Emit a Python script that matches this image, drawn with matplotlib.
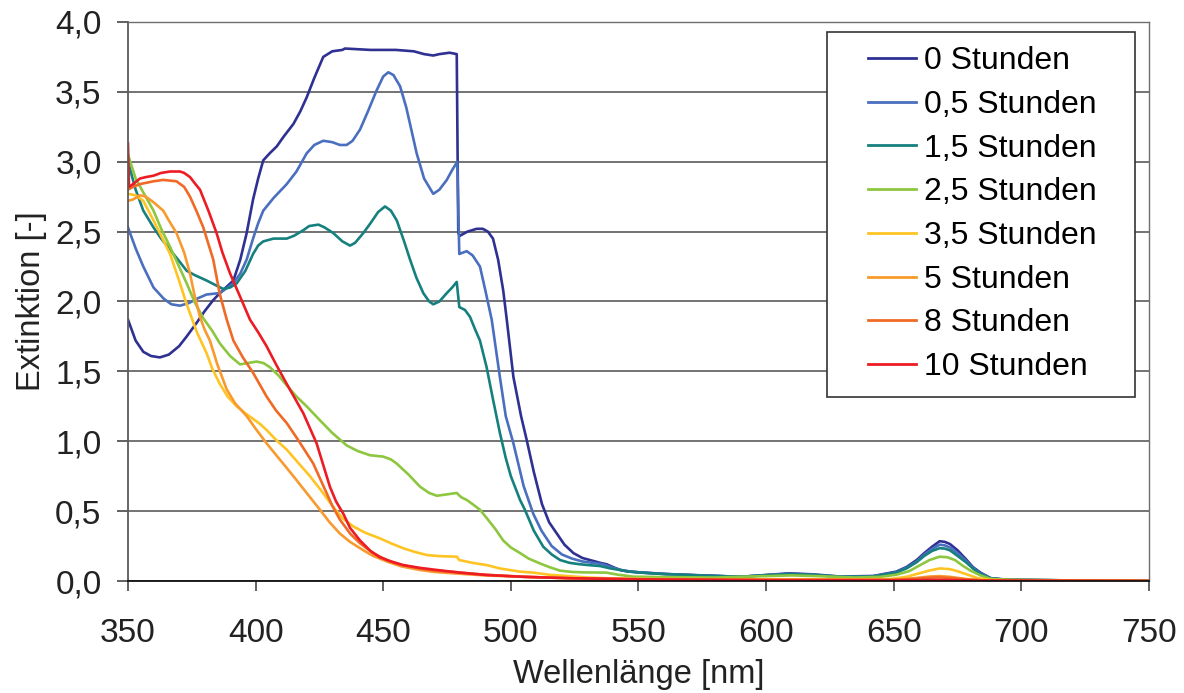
import matplotlib
matplotlib.use("Agg")
import matplotlib.pyplot as plt
from matplotlib.lines import Line2D
from matplotlib.legend_handler import HandlerLine2D

plt.rcParams["font.family"] = ["Liberation Sans", "DejaVu Sans"]

# Extinktionsspektren nach Bestrahlungsdauer
labels = ["0 Stunden", "0,5 Stunden", "1,5 Stunden", "2,5 Stunden",
          "3,5 Stunden", "5 Stunden", "8 Stunden", "10 Stunden"]
colors = ["#2e3192", "#4a6fbf", "#16807f", "#8dc63f",
          "#ffc424", "#f89a2e", "#f06a26", "#ed1c24"]

wl_0h = [350, 353, 356, 359, 362.5, 366, 370, 373, 377, 380, 383.4, 386, 391.3, 394, 396.5,
         399, 401, 403, 405.5, 408.3, 411, 414.8, 417.5, 420, 423, 426.5, 430, 434, 435, 445,
         455, 462, 466, 469.6, 472, 476, 478.8, 479.4, 480, 483, 486.6, 489, 491, 493, 495,
         497, 498.4, 501, 504, 506.2, 509, 512.2, 515, 518, 521, 524.5, 528, 531, 535, 537.5,
         540, 542.8, 546, 550.6, 561, 574, 590, 600, 609, 618, 629, 642, 651, 655, 659, 662,
         665, 668, 670, 672, 675, 678.6, 681, 684, 688, 693, 700, 720, 750]
ext_0h = [1.87, 1.72, 1.64, 1.61, 1.60, 1.62, 1.68, 1.75, 1.85, 1.93, 2.01, 2.06, 2.15, 2.30, 2.49,
          2.73, 2.88, 3.01, 3.06, 3.11, 3.18, 3.27, 3.36, 3.46, 3.60, 3.75, 3.79, 3.80, 3.81, 3.80,
          3.80, 3.79, 3.77, 3.76, 3.77, 3.78, 3.77, 2.49, 2.47, 2.50, 2.52, 2.52, 2.50, 2.45, 2.30,
          2.08, 1.87, 1.46, 1.18, 1.01, 0.78, 0.55, 0.42, 0.34, 0.26, 0.20, 0.165, 0.15, 0.13, 0.12,
          0.10, 0.079, 0.068, 0.062, 0.05, 0.041, 0.03, 0.043, 0.055, 0.048, 0.032, 0.036, 0.067,
          0.10, 0.15, 0.20, 0.245, 0.285, 0.28, 0.265, 0.22, 0.15, 0.10, 0.06, 0.02, 0.012, 0.008,
          0.004, 0.0]

wl_05h = [350, 353, 356, 360, 364, 367, 370.4, 374, 377, 380.8, 386, 391.3, 394, 396.5, 399,
          401, 403, 407, 412.2, 416, 420, 423, 426.5, 430, 433, 435.7, 438, 440.9, 444, 447.4,
          450, 452, 454, 456.6, 459, 461, 463.1, 466, 469.6, 472, 474.9, 477, 479, 479.8, 482.7,
          485, 487.9, 490, 492.5, 495.7, 498, 501, 505, 508.8, 512, 516, 520, 524, 528, 532, 536,
          540, 544, 550, 560, 574, 590, 600, 609, 618, 629, 642, 651, 655, 659, 662, 665, 668,
          670, 672, 675, 678.6, 681, 684, 688, 693, 700, 720, 750]
ext_05h = [2.53, 2.38, 2.25, 2.10, 2.02, 1.98, 1.97, 1.99, 2.02, 2.05, 2.06, 2.13, 2.20, 2.30, 2.45,
           2.56, 2.65, 2.74, 2.84, 2.93, 3.06, 3.12, 3.15, 3.14, 3.12, 3.12, 3.15, 3.23, 3.36, 3.51,
           3.61, 3.64, 3.62, 3.54, 3.39, 3.23, 3.06, 2.88, 2.77, 2.80, 2.87, 2.94, 3.00, 2.34, 2.36,
           2.33, 2.25, 2.08, 1.87, 1.46, 1.18, 0.985, 0.68, 0.48, 0.36, 0.25, 0.19, 0.16, 0.14, 0.13,
           0.12, 0.095, 0.075, 0.062, 0.05, 0.04, 0.03, 0.042, 0.052, 0.045, 0.03, 0.034, 0.063,
           0.095, 0.14, 0.19, 0.23, 0.26, 0.255, 0.24, 0.20, 0.14, 0.095, 0.055, 0.02, 0.01, 0.008,
           0.004, 0.0]

wl_15h = [350, 353, 356, 360, 363, 366.5, 370, 373, 376, 380.8, 384, 387.3, 390, 392.6, 396, 399,
          401, 403, 407, 412.2, 415, 418.7, 421, 424.6, 427, 430.4, 434, 437, 439, 442.2, 445, 448,
          450.7, 453, 455.3, 458, 460.5, 463, 465.7, 468, 469.6, 472, 474.9, 477, 478.8, 479.8,
          482, 484, 486, 487.9, 490.5, 493, 495.7, 498, 500, 503.6, 505.5, 509, 512.7, 516, 519.3,
          523, 527, 531, 535, 539, 542.8, 546, 550.6, 560, 574, 590, 600, 609, 618, 629, 642, 651,
          655, 659, 662, 665, 668, 670, 672, 675, 678.6, 681, 684, 688, 693, 700, 720, 750]
ext_15h = [3.00, 2.80, 2.65, 2.53, 2.45, 2.37, 2.29, 2.22, 2.19, 2.15, 2.12, 2.09, 2.10, 2.13, 2.22,
           2.34, 2.40, 2.43, 2.45, 2.45, 2.47, 2.51, 2.54, 2.55, 2.53, 2.49, 2.43, 2.40, 2.42, 2.49,
           2.56, 2.64, 2.68, 2.65, 2.58, 2.44, 2.30, 2.17, 2.06, 2.00, 1.98, 2.00, 2.06, 2.10, 2.14,
           1.96, 1.94, 1.89, 1.80, 1.72, 1.53, 1.30, 1.06, 0.88, 0.75, 0.58, 0.51, 0.36, 0.245, 0.19,
           0.15, 0.13, 0.12, 0.113, 0.107, 0.09, 0.079, 0.068, 0.06, 0.05, 0.04, 0.03, 0.042, 0.05,
           0.045, 0.03, 0.033, 0.06, 0.09, 0.135, 0.18, 0.215, 0.235, 0.232, 0.22, 0.18, 0.13, 0.09,
           0.05, 0.02, 0.01, 0.008, 0.004, 0.0]

wl_25h = [350, 353, 356, 360, 363, 366.5, 370, 373, 376, 379.5, 383, 386, 390, 393.9, 397, 400.4,
          403, 405.6, 409, 412.2, 416, 420, 425.2, 430, 435.7, 440, 444.8, 450, 453, 455.3, 460,
          464.4, 468, 471, 475, 478.8, 480.5, 482.7, 485, 487.9, 491, 494, 497, 500, 503.6, 507,
          511.4, 515, 519.3, 524, 528.4, 537.5, 542, 548, 560, 580, 600, 610, 620, 635, 645, 651,
          656, 660, 664, 668, 671, 674, 677, 680, 684, 688, 693, 700, 720, 750]
ext_25h = [3.05, 2.88, 2.78, 2.65, 2.52, 2.39, 2.25, 2.13, 2.00, 1.88, 1.79, 1.70, 1.61, 1.55, 1.56,
           1.57, 1.56, 1.53, 1.47, 1.40, 1.32, 1.25, 1.15, 1.06, 0.97, 0.93, 0.90, 0.89, 0.87, 0.84,
           0.76, 0.675, 0.63, 0.61, 0.62, 0.63, 0.60, 0.58, 0.55, 0.51, 0.44, 0.37, 0.29, 0.24, 0.20,
           0.16, 0.126, 0.10, 0.074, 0.065, 0.062, 0.06, 0.045, 0.031, 0.028, 0.025, 0.035, 0.04,
           0.035, 0.025, 0.03, 0.045, 0.07, 0.11, 0.15, 0.174, 0.17, 0.15, 0.11, 0.075, 0.04, 0.015,
           0.01, 0.008, 0.004, 0.0]

wl_35h = [350, 353, 356, 360, 363, 366.5, 370, 373, 377, 380.8, 383, 386, 389, 392.6, 396, 399,
          402, 404.3, 408, 412.2, 416, 421.3, 426, 430.4, 434, 438.3, 443, 448.7, 453, 457.9, 462,
          467, 472, 478.8, 479.8, 485, 490.5, 495.7, 503.6, 508.8, 515, 521.8, 530, 540, 560, 600,
          640, 649, 655, 660, 664, 668, 672, 675, 679, 683, 688, 700, 750]
ext_35h = [2.77, 2.76, 2.72, 2.58, 2.47, 2.34, 2.15, 1.98, 1.78, 1.63, 1.52, 1.41, 1.32, 1.25, 1.20,
           1.16, 1.12, 1.08, 1.01, 0.94, 0.86, 0.75, 0.64, 0.53, 0.45, 0.39, 0.345, 0.305, 0.27,
           0.234, 0.21, 0.186, 0.178, 0.174, 0.15, 0.13, 0.114, 0.09, 0.067, 0.06, 0.045, 0.036,
           0.025, 0.018, 0.014, 0.012, 0.012, 0.015, 0.03, 0.055, 0.075, 0.09, 0.085, 0.07, 0.045,
           0.02, 0.008, 0.005, 0.0]

wl_5h = [350, 352, 354.7, 357, 360, 363.8, 366, 369, 372, 374.3, 376, 378.2, 380, 382.1, 385,
         388.7, 392, 396.5, 400, 404.3, 409, 414.8, 420, 425.2, 429, 433, 437, 442.2, 446, 451.4,
         457, 464.4, 470, 477.4, 490, 505, 523, 550, 600, 650, 658, 664, 668, 672, 678, 685, 750]
ext_5h = [2.72, 2.73, 2.76, 2.75, 2.71, 2.65, 2.58, 2.49, 2.35, 2.20, 2.05, 1.89, 1.80, 1.72, 1.55,
          1.37, 1.27, 1.18, 1.09, 0.985, 0.88, 0.75, 0.63, 0.51, 0.42, 0.34, 0.28, 0.22, 0.18, 0.14,
          0.105, 0.079, 0.065, 0.055, 0.04, 0.03, 0.02, 0.012, 0.008, 0.01, 0.02, 0.032, 0.035,
          0.03, 0.015, 0.005, 0.0]

wl_8h = [350, 352, 354.7, 360, 363.8, 369, 372, 374.3, 377, 379.5, 383.4, 386, 388.7, 391.3, 395,
         399, 404.3, 408, 412.2, 417, 422.6, 427.8, 430, 433, 437, 440.9, 446, 451.4, 457, 464.4,
         470, 477.4, 490, 505, 523, 550, 600, 650, 658, 664, 668, 672, 678, 685, 750]
ext_8h = [2.80, 2.82, 2.84, 2.86, 2.87, 2.86, 2.82, 2.75, 2.64, 2.53, 2.30, 2.05, 1.87, 1.72, 1.60,
          1.49, 1.32, 1.22, 1.13, 1.00, 0.84, 0.63, 0.54, 0.44, 0.34, 0.27, 0.20, 0.15, 0.115, 0.09,
          0.075, 0.065, 0.045, 0.03, 0.02, 0.012, 0.008, 0.008, 0.015, 0.024, 0.026, 0.022, 0.012,
          0.004, 0.0]

wl_10h = [350, 350.4, 352, 354.7, 357, 360, 363, 366.5, 370.4, 372, 374.3, 376, 378.2, 381.5, 384.7,
          387, 390, 394.5, 397.8, 401, 404.3, 408, 412.2, 418.7, 423.9, 426.5, 429.1, 431.5, 434.4,
          437, 440.9, 445, 448.7, 453, 457.9, 464, 471, 480, 490.5, 505, 523, 550, 600, 650, 668,
          685, 750]
ext_10h = [3.13, 2.82, 2.84, 2.88, 2.89, 2.90, 2.92, 2.93, 2.93, 2.92, 2.89, 2.85, 2.80, 2.65, 2.49,
           2.35, 2.20, 2.01, 1.87, 1.78, 1.68, 1.55, 1.41, 1.20, 0.985, 0.83, 0.675, 0.57, 0.48,
           0.38, 0.29, 0.215, 0.17, 0.14, 0.114, 0.095, 0.079, 0.06, 0.043, 0.03, 0.02, 0.012,
           0.006, 0.005, 0.008, 0.003, 0.0]

series = [(wl_0h, ext_0h), (wl_05h, ext_05h), (wl_15h, ext_15h), (wl_25h, ext_25h),
          (wl_35h, ext_35h), (wl_5h, ext_5h), (wl_8h, ext_8h), (wl_10h, ext_10h)]

x_ticks = [350, 400, 450, 500, 550, 600, 650, 700, 750]
y_ticks = [0.0, 0.5, 1.0, 1.5, 2.0, 2.5, 3.0, 3.5, 4.0]

fig = plt.figure(figsize=(11.84, 6.93), dpi=100)
ax = fig.add_axes([0.1081, 0.1616, 0.8623, 0.8067])

for (wl, ext), lab, col in zip(series, labels, colors):
    ax.plot(wl, ext, color=col, linewidth=1.9, label=lab, solid_joinstyle="round")

ax.set_xlim(350, 750)
ax.set_ylim(0, 4.0)
ax.set_xticks(x_ticks)
ax.set_yticks(y_ticks)
ax.set_yticklabels([f"{v:.1f}".replace(".", ",") for v in y_ticks])

# Excel-Stil: nur horizontale Gitterlinien
ax.grid(axis="y", color="#4d4d4d", linewidth=1.1)
ax.set_axisbelow(True)
for side in ["top", "right"]:
    ax.spines[side].set_color("#6e6e6e")
    ax.spines[side].set_linewidth(1.0)
ax.spines["left"].set_color("#5a5a5a")
ax.spines["left"].set_linewidth(1.3)
ax.spines["bottom"].set_color("#111111")
ax.spines["bottom"].set_linewidth(1.3)

ax.tick_params(axis="both", direction="out", labelsize=24, colors="#222222")
ax.tick_params(axis="x", length=7.5, width=1.3, pad=19, color="#555555")
ax.tick_params(axis="y", length=8, width=1.3, pad=11, color="#555555")

ax.set_xlabel("Wellenlänge [nm]", fontsize=23.5, color="#222222", labelpad=7)
ax.set_ylabel("Extinktion [-]", fontsize=23.5, color="#222222", labelpad=6)

# Legendenkasten rechts oben, Linie etwas eingerückt wie in Excel
leg = ax.legend(loc="upper right", bbox_to_anchor=(0.6843, 0.5, 0.302, 0.4826),
                mode="expand", borderaxespad=0,
                fontsize=23, frameon=True, fancybox=False, framealpha=1,
                handlelength=2.35, handletextpad=0.25, labelspacing=0.43,
                borderpad=0.45, edgecolor="#333333",
                handler_map={Line2D: HandlerLine2D(xpad=0.85)})
leg.get_frame().set_linewidth(1.2)
for line in leg.get_lines():
    line.set_linewidth(2.0)

fig.savefig("out.png", dpi=100)
